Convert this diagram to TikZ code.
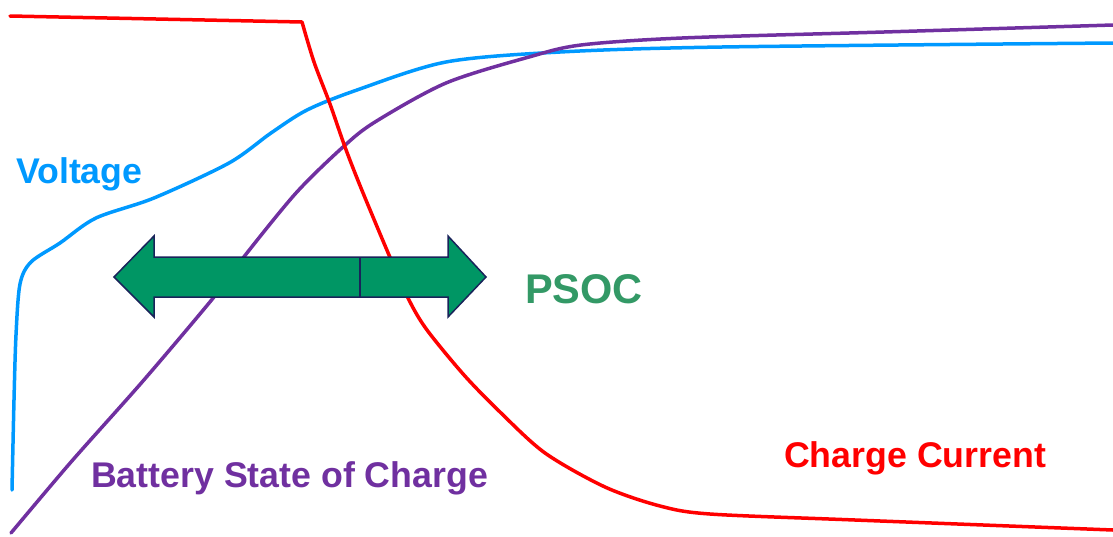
\documentclass[tikz,border=0pt]{standalone}
\usepackage{fontspec}
\setmainfont{Liberation Sans}
\definecolor{vblue}{RGB}{0,153,255}
\definecolor{spurple}{RGB}{112,48,160}
\definecolor{cred}{RGB}{255,0,0}
\definecolor{afill}{RGB}{0,150,100}
\definecolor{aline}{RGB}{25,35,90}
\definecolor{psocgreen}{RGB}{51,153,102}
\begin{document}
\begin{tikzpicture}[x=1pt,y=-1pt,
  curve/.style={line width=3.5pt,line cap=round,line join=round},
  lbl/.style={inner sep=0pt,anchor=base west,font=\fontsize{35.7}{40}\selectfont\bfseries},
  bigarrow/.style={fill=afill,draw=aline,line width=1.5pt,line join=miter}]
\useasboundingbox (0,0) rectangle (1113,536);
% Voltage curve
\draw[curve,vblue] plot[smooth,tension=0.5] coordinates {
  (12,490) (14,400) (16,335) (20,284) (31,262) (60,243) (96,218) (154,198)
  (229,163) (271,133) (307,110) (357,90) (446,62) (560,52) (722,47) (1113,43)};
% State of charge curve
\draw[curve,spurple] plot[smooth,tension=0.5] coordinates {
  (11,533) (71,462) (143,381) (214,297) (243,258) (296,193) (343,147) (375,122)
  (446,83) (529,57) (581,45) (682,38) (884,32) (1113,25)};
% Charge current curve
\draw[curve,cred] (10,16) -- (302,22)
  plot[smooth,tension=0.5] coordinates {
  (302,22) (314,62) (330,104) (345,147) (361,188) (389,255) (409,300) (427,330)
  (464,375) (500,412) (545,453) (605,487) (660,506) (710,514) (855,520) (1113,530)};
% PSOC double arrow
\draw[bigarrow] (114,277) -- (154,236) -- (154,257) -- (448,257) -- (448,236)
  -- (486,277) -- (448,317) -- (448,297) -- (154,297) -- (154,317) -- cycle;
\coordinate (divtop) at (360,257);
\coordinate (divbot) at (360,297);
\draw[aline,line width=1.5pt] (divtop) -- (divbot);
% labels
\node[lbl,text=vblue] (volt) at (16,183) {Voltage};
\node[lbl,text=spurple] (soc) at (91,487) {Battery State of Charge};
\node[lbl,text=cred] (cur) at (784,467) {Charge Current};
\node[lbl,text=psocgreen,font=\fontsize{41.5}{46}\selectfont\bfseries] (psoc) at (525,303) {PSOC};
\end{tikzpicture}
\end{document}
